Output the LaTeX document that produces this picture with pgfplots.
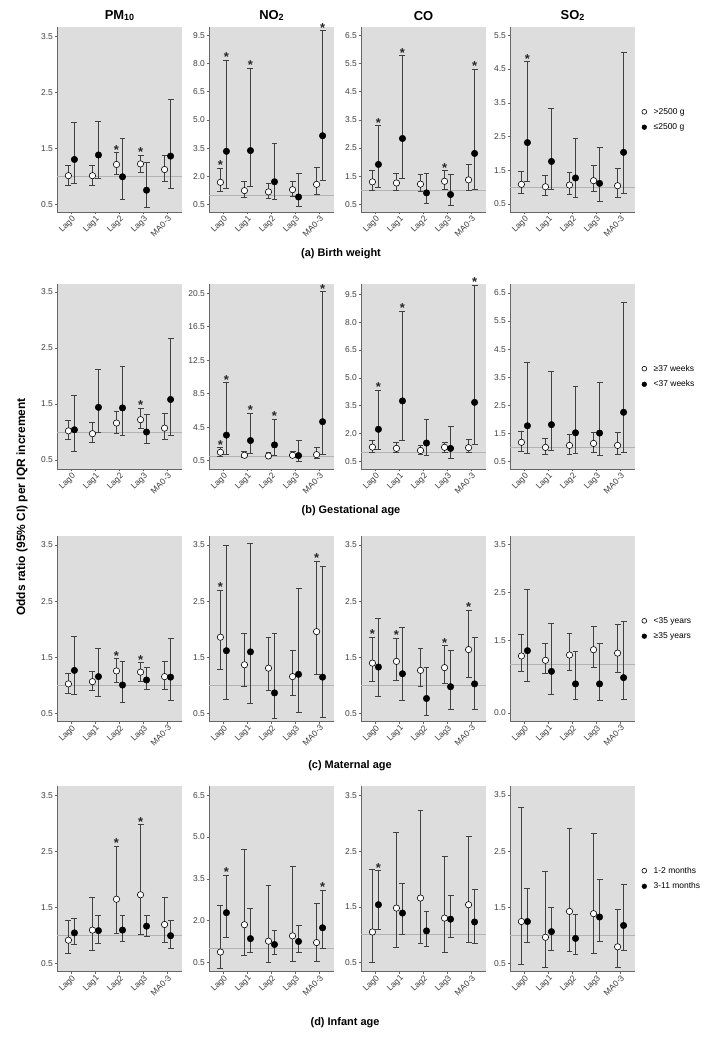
\documentclass[border=0pt]{standalone}
\usepackage{pgfplots}
\usepackage{pgfplotstable}
\usepackage{fontspec}
\setmainfont{Liberation Sans}
\pgfplotsset{compat=1.18}

\definecolor{panelbg}{RGB}{221,221,221}
\newcommand{\ticksfont}{\fontsize{8.5}{10}\selectfont}
\newcommand{\sub}[1]{{\fontsize{9}{9}\selectfont\raisebox{-0.5pt}{#1}}}

% x: category (0..4 = Lag0..MA0-3); w/wl/wh: first group OR and 95% CI;
% b/bl/bh: second group; sw/sb: 1 = significant (asterisk)
% (a) birth weight
\pgfplotstableread{
x w wl wh b bl bh sw sb
0 1.01 0.84 1.20 1.30 0.87 1.96 0 0
1 1.01 0.84 1.20 1.38 0.96 1.98 0 0
2 1.21 1.04 1.42 0.99 0.58 1.68 1 0
3 1.22 1.07 1.38 0.75 0.45 1.25 1 0
4 1.12 0.90 1.38 1.36 0.78 2.37 0 0
}\tAa
\pgfplotstableread{
x w wl wh b bl bh sw sb
0 1.68 1.17 2.44 3.33 1.38 8.18 1 1
1 1.24 0.87 1.73 3.37 1.47 7.75 0 1
2 1.17 0.83 1.64 1.71 0.78 3.74 0 0
3 1.29 0.92 1.73 0.90 0.41 2.14 0 0
4 1.57 1.01 2.47 4.16 1.77 9.76 0 1
}\tAb
\pgfplotstableread{
x w wl wh b bl bh sw sb
0 1.30 0.99 1.72 1.92 1.11 3.30 0 1
1 1.26 0.98 1.61 2.84 1.42 5.78 0 1
2 1.22 0.95 1.55 0.91 0.52 1.61 0 0
3 1.32 1.04 1.69 0.85 0.46 1.57 1 0
4 1.37 0.99 1.92 2.31 1.04 5.31 0 1
}\tAc
\pgfplotstableread{
x w wl wh b bl bh sw sb
0 1.08 0.81 1.45 2.32 1.16 4.72 0 1
1 1.01 0.75 1.33 1.76 0.94 3.33 0 0
2 1.06 0.77 1.44 1.27 0.69 2.44 0 0
3 1.19 0.87 1.64 1.11 0.56 2.17 0 0
4 1.04 0.70 1.55 2.03 0.82 4.98 0 0
}\tAd
% (b) gestational age
\pgfplotstableread{
x w wl wh b bl bh sw sb
0 1.02 0.87 1.21 1.04 0.66 1.65 0 0
1 0.97 0.82 1.17 1.44 0.99 2.12 0 0
2 1.16 0.98 1.36 1.43 0.94 2.17 0 0
3 1.22 1.06 1.42 1.00 0.79 1.31 1 0
4 1.07 0.87 1.33 1.58 0.93 2.66 0 0
}\tBa
\pgfplotstableread{
x w wl wh b bl bh sw sb
0 1.50 1.02 2.06 3.55 1.22 9.80 1 1
1 1.14 0.86 1.58 2.90 1.30 6.19 0 1
2 1.06 0.82 1.46 2.38 1.10 5.43 0 1
3 1.14 0.90 1.62 1.10 0.42 2.94 0 0
4 1.22 0.82 2.02 5.15 1.22 20.7 0 1
}\tBb
\pgfplotstableread{
x w wl wh b bl bh sw sb
0 1.27 1.00 1.63 2.23 1.15 4.33 0 1
1 1.20 0.97 1.53 3.76 1.63 8.59 0 1
2 1.09 0.88 1.38 1.49 0.82 2.77 0 0
3 1.26 1.00 1.54 1.20 0.64 2.41 0 0
4 1.24 0.97 1.69 3.68 1.40 10.0 0 1
}\tBc
\pgfplotstableread{
x w wl wh b bl bh sw sb
0 1.18 0.86 1.57 1.77 0.80 4.02 0 0
1 1.00 0.74 1.32 1.81 0.90 3.71 0 0
2 1.07 0.74 1.45 1.52 0.80 3.18 0 0
3 1.14 0.83 1.55 1.51 0.73 3.31 0 0
4 1.07 0.75 1.52 2.25 0.82 6.17 0 0
}\tBd
% (c) maternal age
\pgfplotstableread{
x w wl wh b bl bh sw sb
0 1.03 0.86 1.22 1.27 0.85 1.88 0 0
1 1.07 0.91 1.26 1.16 0.80 1.66 0 0
2 1.26 1.06 1.48 1.01 0.70 1.43 1 0
3 1.24 1.08 1.41 1.10 0.93 1.32 1 0
4 1.16 0.94 1.43 1.15 0.74 1.84 0 0
}\tCa
\pgfplotstableread{
x w wl wh b bl bh sw sb
0 1.86 1.28 2.70 1.62 0.75 3.49 1 0
1 1.37 0.98 1.93 1.60 0.68 3.53 0 0
2 1.31 0.92 1.86 0.87 0.41 1.92 0 0
3 1.16 0.83 1.62 1.20 0.52 2.72 0 0
4 1.96 1.20 3.21 1.15 0.44 3.11 1 0
}\tCb
\pgfplotstableread{
x w wl wh b bl bh sw sb
0 1.40 1.07 1.86 1.33 0.80 2.19 1 0
1 1.43 1.10 1.84 1.21 0.73 2.04 1 0
2 1.27 0.98 1.66 0.77 0.47 1.32 0 0
3 1.32 1.03 1.71 0.98 0.58 1.62 1 0
4 1.64 1.14 2.34 1.03 0.58 1.86 1 0
}\tCc
\pgfplotstableread{
x w wl wh b bl bh sw sb
0 1.18 0.85 1.62 1.29 0.65 2.57 0 0
1 1.09 0.81 1.45 0.86 0.39 1.85 0 0
2 1.20 0.87 1.64 0.60 0.28 1.28 0 0
3 1.31 0.95 1.80 0.60 0.25 1.45 0 0
4 1.24 0.83 1.84 0.73 0.28 1.89 0 0
}\tCd
% (d) infant age
\pgfplotstableread{
x w wl wh b bl bh sw sb
0 0.92 0.68 1.27 1.05 0.85 1.30 0 0
1 1.10 0.74 1.68 1.09 0.86 1.37 0 0
2 1.65 1.04 2.60 1.10 0.90 1.37 1 0
3 1.73 1.02 2.98 1.17 0.98 1.37 1 0
4 1.20 0.88 1.68 1.00 0.77 1.28 0 0
}\tDa
\pgfplotstableread{
x w wl wh b bl bh sw sb
0 0.88 0.30 2.55 2.29 1.42 3.63 0 1
1 1.86 0.76 4.55 1.36 0.87 2.46 0 0
2 1.27 0.50 3.27 1.15 0.78 1.65 0 0
3 1.46 0.54 3.96 1.26 0.85 1.82 0 0
4 1.22 0.54 2.62 1.75 1.00 3.09 0 1
}\tDb
\pgfplotstableread{
x w wl wh b bl bh sw sb
0 1.05 0.51 2.18 1.54 1.10 2.15 0 1
1 1.48 0.78 2.83 1.39 1.01 1.93 0 0
2 1.66 0.84 3.24 1.07 0.79 1.42 0 0
3 1.30 0.69 2.41 1.28 0.96 1.70 0 0
4 1.54 0.86 2.77 1.23 0.84 1.81 0 0
}\tDc
\pgfplotstableread{
x w wl wh b bl bh sw sb
0 1.25 0.49 3.27 1.25 0.88 1.84 0 0
1 0.97 0.43 2.14 1.07 0.74 1.50 0 0
2 1.43 0.71 2.90 0.95 0.67 1.37 0 0
3 1.39 0.69 2.81 1.33 0.90 1.99 0 0
4 0.80 0.43 1.46 1.18 0.73 1.91 0 0
}\tDd

\pgfplotsset{
  panel/.style={
    scale only axis, width=125bp, height=185bp, anchor=south west,
    axis background/.style={fill=panelbg},
    axis x line*=bottom, axis y line*=left,
    axis line style={black!60, line width=0.9pt},
    xmin=-0.6, xmax=4.6,
    xtick={0,...,4}, xticklabels={Lag0,Lag1,Lag2,Lag3,MA0-3},
    tick align=outside, major tick length=2.5pt,
    tick style={black!60, line width=0.6pt},
    xticklabel style={rotate=45, anchor=north east, font=\ticksfont, text=black!75, inner sep=0.5pt},
    yticklabel style={font=\ticksfont, text=black!75, inner sep=1.5pt,
      /pgf/number format/fixed, /pgf/number format/fixed zerofill,
      /pgf/number format/precision=1},
    /pgf/number format/assume math mode=true,
    clip=false,
    title style={font=\bfseries\fontsize{13}{13}\selectfont, yshift=-3pt},
    legend style={draw=none, fill=none, font=\ticksfont, at={(1.03,0.5)}, anchor=west,
      row sep=4pt, /tikz/every odd column/.append style={column sep=5pt}},
    legend cell align=left,
    legend image code/.code={\draw[##1, mark size=2.4pt] plot coordinates {(0.1cm,0cm)};},
  },
  errbar/.style={forget plot, only marks, mark=none,
    error bars/.cd, y dir=both, y explicit, error mark=-,
    error bar style={black!75, line width=0.9pt},
    error mark options={black!75, line width=0.9pt, mark size=3pt, rotate=90}},
  star/.style={forget plot, only marks, mark=none, nodes near coords={*},
    every node near coord/.style={anchor=base, inner sep=0pt,
      font=\bfseries\fontsize{13}{13}\selectfont, text=black!85, yshift=-1.5pt}},
  whitept/.style={only marks, mark=*, mark size=3.2pt,
    mark options={fill=white, draw=black, line width=0.6pt}},
  blackpt/.style={only marks, mark=*, mark size=3.3pt,
    mark options={fill=black, draw=black}},
}

% #1 left, #2 bottom (px from top), #3 ymin, #4 ymax, #5 yticks, #6 table, #7 extra
\newcommand{\panel}[7]{%
\begin{axis}[panel, at={(#1bp,-#2bp)}, ymin=#3, ymax=#4, ytick={#5}, #7]
\addplot[black!30, line width=0.6pt, forget plot] coordinates {(-0.6,1) (4.6,1)};
\addplot[errbar] table[x expr=\thisrow{x}-0.125, y=w,
  y error plus expr=\thisrow{wh}-\thisrow{w}, y error minus expr=\thisrow{w}-\thisrow{wl}] {#6};
\addplot[errbar] table[x expr=\thisrow{x}+0.125, y=b,
  y error plus expr=\thisrow{bh}-\thisrow{b}, y error minus expr=\thisrow{b}-\thisrow{bl}] {#6};
\addplot[star, restrict expr to domain={\thisrow{sw}}{0.5:1.5}]
  table[x expr=\thisrow{x}-0.125, y=wh] {#6};
\addplot[star, restrict expr to domain={\thisrow{sb}}{0.5:1.5}]
  table[x expr=\thisrow{x}+0.125, y=bh] {#6};
\addplot[whitept] table[x expr=\thisrow{x}-0.125, y=w] {#6};
\addplot[blackpt] table[x expr=\thisrow{x}+0.125, y=b] {#6};
\end{axis}}

\begin{document}
\begin{tikzpicture}
\useasboundingbox (0,0) rectangle (720bp,-1038bp);

% (a) birth weight
\panel{57}{212}{0.36}{3.67}{0.5,1.5,2.5,3.5}{\tAa}{title={PM\sub{10}}}
\panel{209}{212}{0.1}{9.95}{0.5,2,3.5,5,6.5,8,9.5}{\tAb}{title={NO\sub{2}}}
\panel{361}{212}{0.23}{6.8}{0.5,1.5,2.5,3.5,4.5,5.5,6.5}{\tAc}{title={CO}}
\panel{510}{212}{0.26}{5.75}{0.5,1.5,2.5,3.5,4.5,5.5}{\tAd}{title={SO\sub{2}},
  legend entries={>2500 g,≤2500 g}}

% (b) gestational age
\panel{57}{469}{0.34}{3.64}{0.5,1.5,2.5,3.5}{\tBa}{}
\panel{209}{469}{-0.5}{21.6}{0.5,4.5,8.5,12.5,16.5,20.5}{\tBb}{}
\panel{361}{469}{0.09}{10.06}{0.5,2,3.5,5,6.5,8,9.5}{\tBc}{}
\panel{510}{469}{0.23}{6.82}{0.5,1.5,2.5,3.5,4.5,5.5,6.5}{\tBd}{legend entries={≥37 weeks,<37 weeks}}

% (c) maternal age
\panel{57}{721}{0.37}{3.66}{0.5,1.5,2.5,3.5}{\tCa}{}
\panel{209}{721}{0.37}{3.66}{0.5,1.5,2.5,3.5}{\tCb}{}
\panel{361}{721}{0.37}{3.66}{0.5,1.5,2.5,3.5}{\tCc}{}
\panel{510}{721}{-0.17}{3.67}{0,1.5,2.5,3.5}{\tCd}{legend entries={<35 years,≥35 years}}

% (d) infant age
\panel{57}{971}{0.37}{3.67}{0.5,1.5,2.5,3.5}{\tDa}{}
\panel{209}{971}{0.2}{6.83}{0.5,2,3.5,5,6.5}{\tDb}{}
\panel{361}{971}{0.35}{3.67}{0.5,1.5,2.5,3.5}{\tDc}{}
\panel{510}{971}{0.37}{3.66}{0.5,1.5,2.5,3.5}{\tDd}{legend entries={1-2 months,3-11 months}}

\begin{scope}[every node/.style={font=\bfseries\fontsize{11}{11}\selectfont}]
\node at (341bp,-254bp) {(a) Birth weight};
\node at (351bp,-511bp) {(b) Gestational age};
\node at (350bp,-766bp) {(c) Maternal age};
\node at (345bp,-1023bp) {(d) Infant age};
\end{scope}
\node[rotate=90, font=\bfseries\fontsize{12}{12}\selectfont] at (22bp,-507bp)
  {Odds ratio (95\% CI) per IQR increment};
\end{tikzpicture}
\end{document}
